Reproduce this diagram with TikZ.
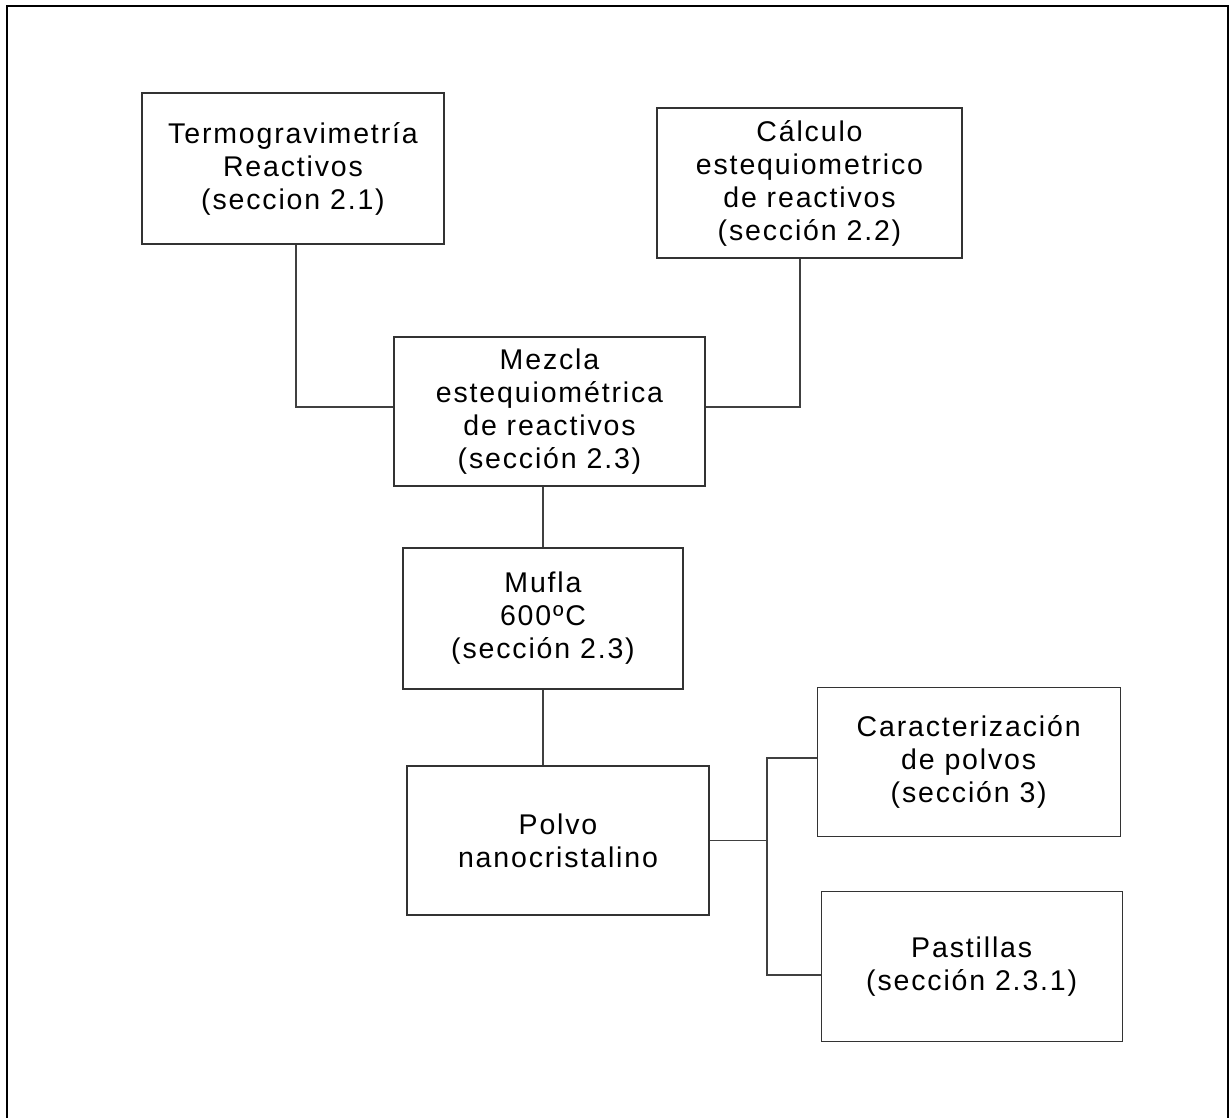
\documentclass[tikz,border=0pt]{standalone}
\usepackage{fontspec}
\setmainfont{Liberation Sans}[LetterSpace=6.5]
\begin{document}
\begin{tikzpicture}[x=1pt,y=-1pt,
  box/.style={draw=black!80,line width=1.3pt,rectangle,inner sep=0pt,align=center,
    font=\fontsize{28.5}{33}\selectfont},
  conn/.style={draw=black!75,line width=1.1pt}]
\useasboundingbox (0,0) rectangle (1230,1117);
\draw[line width=2.6pt] (7,6) rectangle (1228,1130);
\node[box,minimum width=302,minimum height=151] (termo) at (293,168.5) {Termogravimetría\\Reactivos\\(seccion 2.1)};
\node[box,minimum width=305,minimum height=150] (calc) at (809.5,183) {Cálculo\\estequiometrico\\de reactivos\\(sección 2.2)};
\node[box,minimum width=311,minimum height=149] (mezcla) at (549.5,411.5) {Mezcla\\estequiométrica\\de reactivos\\(sección 2.3)};
\node[box,minimum width=280,minimum height=141] (mufla) at (543,618.5) {Mufla\\600ºC\\(sección 2.3)};
\node[box,minimum width=302,minimum height=149] (polvo) at (558,840.5) {Polvo\\nanocristalino};
\node[box,minimum width=303,minimum height=149] (caract) at (968.7,762) {Caracterización\\de polvos\\(sección 3)};
\node[box,minimum width=301,minimum height=150] (past) at (971.7,966.7) {Pastillas\\(sección 2.3.1)};
\coordinate (b1) at (767,758);
\coordinate (b2) at (767,975);
\coordinate (tl) at (296,407);
\coordinate (tr) at (800,407);
\draw[conn] (termo.south -| tl) -- (tl) -- (tl -| mezcla.west);
\draw[conn] (calc.south -| tr) -- (tr) -- (tr -| mezcla.east);
\draw[conn] (mufla.north |- mezcla.south) -- (mufla.north);
\draw[conn] (mufla.south) -- (mufla.south |- polvo.north);
\draw[conn] (polvo.east) -- (polvo.east -| b1);
\draw[conn] (caract.west |- b1) -- (b1) -- (b2) -- (past.west |- b2);
\end{tikzpicture}
\end{document}
